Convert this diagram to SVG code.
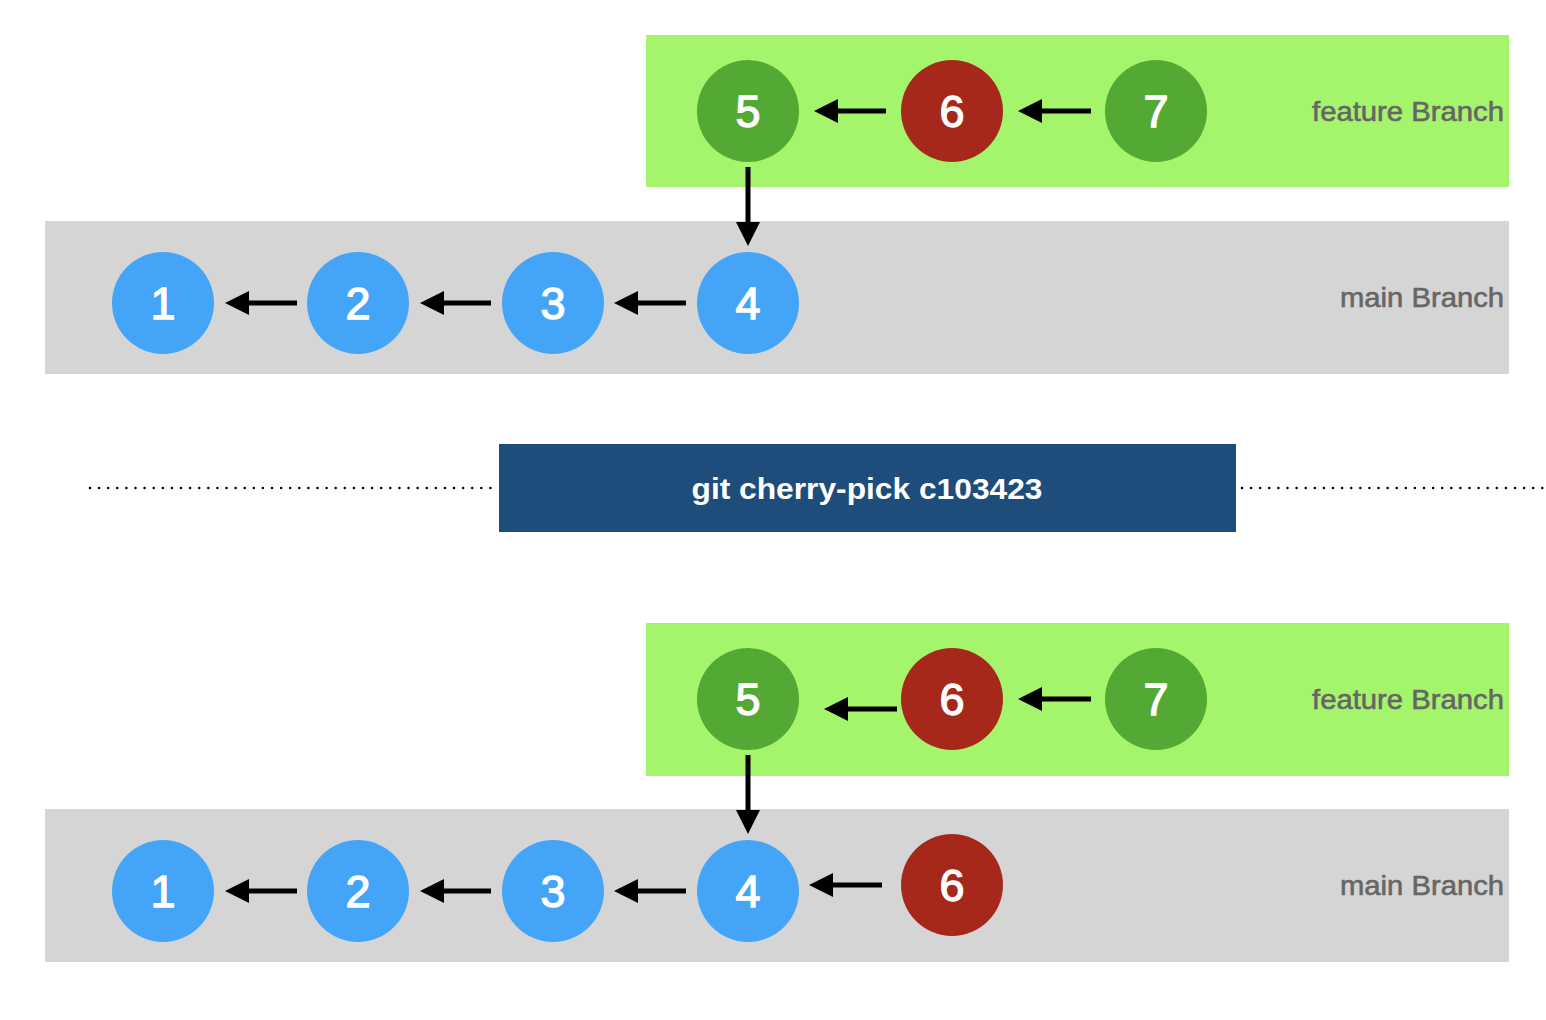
<svg xmlns="http://www.w3.org/2000/svg" width="1546" height="1020" viewBox="0 0 1546 1020">
<style>
.feat{fill:#A5F56C}
.main{fill:#D5D5D5}
.g{fill:#53A933}
.r{fill:#A5281B}
.b{fill:#44A4F8}
.num{font-family:"Liberation Sans",Arial,sans-serif;font-size:45px;fill:#fff;stroke:#fff;stroke-width:1.3px;text-anchor:middle}
.lbl{font-family:"Liberation Sans",Arial,sans-serif;font-size:28px;fill:#666;stroke:#666;stroke-width:0.6px;text-anchor:end}
.cmd{font-family:"Liberation Sans",Arial,sans-serif;font-size:29px;font-weight:bold;fill:#fff;text-anchor:middle}
.arr{stroke:#000;stroke-width:5;fill:none;marker-end:url(#ah)}
.dot{stroke:#000;stroke-width:2.5;stroke-linecap:round;stroke-dasharray:0 9.1;fill:none}
</style>
<defs>
<marker id="ah" markerUnits="userSpaceOnUse" markerWidth="24" markerHeight="24" viewBox="0 0 24 24" refX="4" refY="12" orient="auto">
<path d="M0,0 L24,12 L0,24 z" fill="#000"/>
</marker>
</defs>
<g id="bands">
<rect id="feature-band-top" class="feat" x="646" y="35" width="863" height="152"/>
<rect id="main-band-top" class="main" x="45" y="221" width="1464" height="153"/>
<rect id="feature-band-bottom" class="feat" x="646" y="623" width="863" height="153"/>
<rect id="main-band-bottom" class="main" x="45" y="809" width="1464" height="153"/>
</g>
<g id="labels">
<text class="lbl" x="1504" y="121" textLength="192" lengthAdjust="spacingAndGlyphs">feature Branch</text>
<text class="lbl" x="1504" y="307" textLength="164" lengthAdjust="spacingAndGlyphs">main Branch</text>
<text class="lbl" x="1504" y="709" textLength="192" lengthAdjust="spacingAndGlyphs">feature Branch</text>
<text class="lbl" x="1504" y="895" textLength="164" lengthAdjust="spacingAndGlyphs">main Branch</text>
</g>
<g id="divider">
<line class="dot" x1="90" y1="488" x2="494" y2="488"/>
<line class="dot" x1="1242" y1="488" x2="1545" y2="488"/>
<g id="cmd">
<rect x="499" y="444" width="737" height="88" fill="#1E4D7B"/>
<text class="cmd" x="867" y="499" textLength="351" lengthAdjust="spacingAndGlyphs">git cherry-pick c103423</text>
</g>
</g>
<g id="connectors">
<line class="arr" x1="886" y1="111" x2="834" y2="111"/>
<line class="arr" x1="1091" y1="111" x2="1038" y2="111"/>
<line class="arr" x1="748" y1="167" x2="748" y2="226"/>
<line class="arr" x1="297" y1="303" x2="245" y2="303"/>
<line class="arr" x1="491" y1="303" x2="440" y2="303"/>
<line class="arr" x1="686" y1="303" x2="634" y2="303"/>
<line class="arr" x1="897" y1="709" x2="844" y2="709"/>
<line class="arr" x1="1091" y1="699" x2="1038" y2="699"/>
<line class="arr" x1="748" y1="755" x2="748" y2="814"/>
<line class="arr" x1="297" y1="891" x2="245" y2="891"/>
<line class="arr" x1="491" y1="891" x2="440" y2="891"/>
<line class="arr" x1="686" y1="891" x2="634" y2="891"/>
<line class="arr" x1="882" y1="885" x2="829" y2="885"/>
</g>
<g id="t5"><circle class="g" cx="748" cy="111" r="51"/><text class="num" x="748" y="127">5</text></g>
<g id="t6"><circle class="r" cx="952" cy="111" r="51"/><text class="num" x="952" y="127">6</text></g>
<g id="t7"><circle class="g" cx="1156" cy="111" r="51"/><text class="num" x="1156" y="127">7</text></g>
<g id="t1"><circle class="b" cx="163" cy="303" r="51"/><text class="num" x="163" y="319">1</text></g>
<g id="t2"><circle class="b" cx="358" cy="303" r="51"/><text class="num" x="358" y="319">2</text></g>
<g id="t3"><circle class="b" cx="553" cy="303" r="51"/><text class="num" x="553" y="319">3</text></g>
<g id="t4"><circle class="b" cx="748" cy="303" r="51"/><text class="num" x="748" y="319">4</text></g>
<g id="b5"><circle class="g" cx="748" cy="699" r="51"/><text class="num" x="748" y="715">5</text></g>
<g id="b6"><circle class="r" cx="952" cy="699" r="51"/><text class="num" x="952" y="715">6</text></g>
<g id="b7"><circle class="g" cx="1156" cy="699" r="51"/><text class="num" x="1156" y="715">7</text></g>
<g id="b1"><circle class="b" cx="163" cy="891" r="51"/><text class="num" x="163" y="907">1</text></g>
<g id="b2"><circle class="b" cx="358" cy="891" r="51"/><text class="num" x="358" y="907">2</text></g>
<g id="b3"><circle class="b" cx="553" cy="891" r="51"/><text class="num" x="553" y="907">3</text></g>
<g id="b4"><circle class="b" cx="748" cy="891" r="51"/><text class="num" x="748" y="907">4</text></g>
<g id="b6m"><circle class="r" cx="952" cy="885" r="51"/><text class="num" x="952" y="901">6</text></g>
</svg>
